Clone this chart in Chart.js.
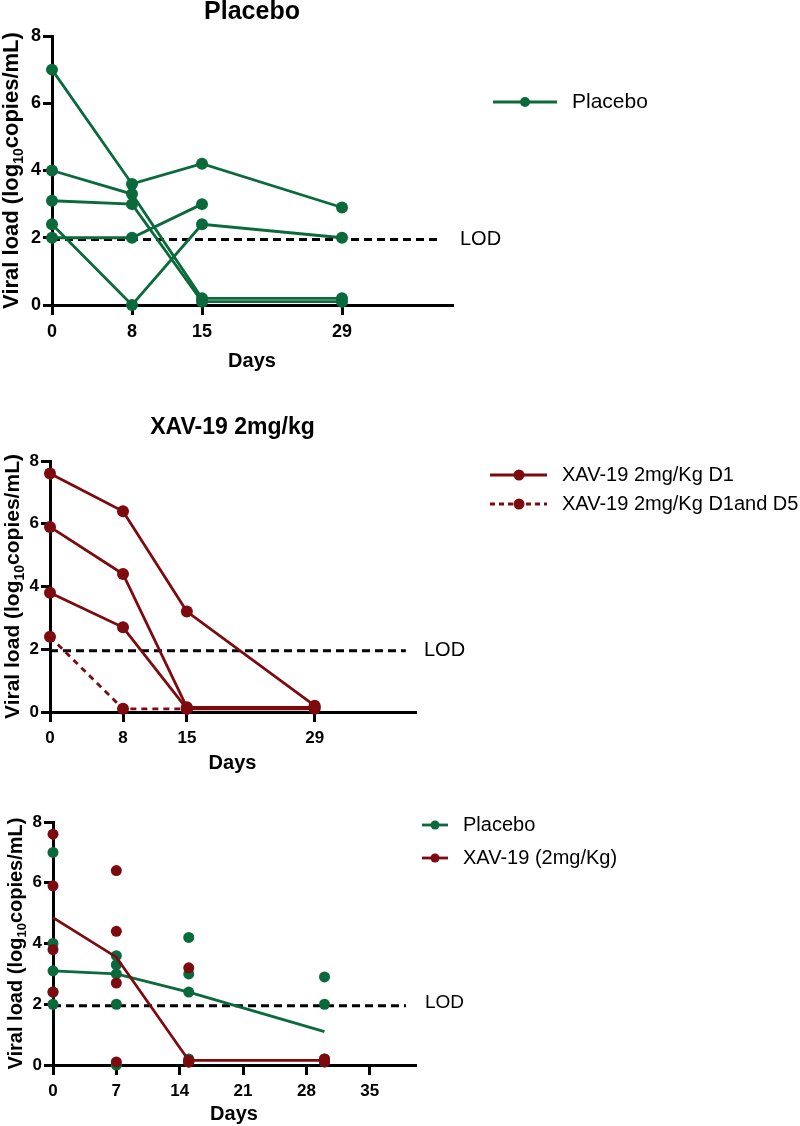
<!DOCTYPE html>
<html>
<head>
<meta charset="utf-8">
<script src="https://cdn.jsdelivr.net/npm/chart.js@4.4.1/dist/chart.umd.min.js"></script>
<style>
  body { margin: 0; background: #fff; }
  .wrap { position: relative; width: 800px; height: 1126px; }
  canvas { position: absolute; left: 0; }
</style>
</head>
<body>
<div class="wrap">
  <canvas id="placeboChart" width="800" height="380" style="top:0"></canvas>
  <canvas id="xavChart" width="800" height="400" style="top:380px"></canvas>
  <canvas id="combinedChart" width="800" height="346" style="top:780px"></canvas>
</div>
<script>
// Panel 1 - placebo animals, days 0/8/15/29
const placeboDays = [0, 8, 15, 29];
const placeboS1 = [7.0, 3.6, 4.2, 2.9];
const placeboS2 = [4.0, 3.3, 0.2, 0.2];
const placeboS3 = [3.1, 3.0, 0.1, 0.1];
const placeboS4 = [2.0, 2.0, 3.0, null];
const placeboS5 = [2.4, 0.0, 2.4, 2.0];

// Panel 2 - XAV-19 animals
const xavDays = [0, 8, 15, 29];
const xavD1a = [7.6, 6.4, 3.2, 0.2];
const xavD1b = [5.9, 4.4, 0.15, 0.15];
const xavD1c = [3.8, 2.7, 0.1, 0.1];
const xavD1D5 = [2.4, 0.1, 0.1, null];

// Panel 3 - pooled, days 0/7/15/30, with median lines
const combinedDays = [0, 7, 15, 30];
const placeboMedian = [3.1, 3.0, 2.4, 1.1];
const xavMedian = [4.85, 3.55, 0.15, 0.15];

const panelTicks = [0, 8, 15, 29];
const combinedTicks = [0, 7, 14, 21, 28, 35];
const lodValue = 1.95;
const lodRange = [0, 39];

const GREEN = '#0b6a3b';
const RED = '#7c0a0e';
const FONT = '"Liberation Sans", Arial, sans-serif';

const pts = (days, vals) => vals.map((v, i) => ({ x: days[i], y: v }));
const scatterPts = (days, groups) => {
  const out = [];
  groups.forEach(g => g.forEach((v, i) => { if (v !== null) out.push({ x: days[i], y: v }); }));
  return out;
};

function subject(days, vals, color, r, dash) {
  return {
    data: pts(days, vals), borderColor: color, backgroundColor: color,
    borderWidth: 2.8, borderDash: dash || [], pointRadius: r, pointHoverRadius: r,
    pointBorderWidth: 0, pointBackgroundColor: color, clip: false, spanGaps: false
  };
}

function lodLine() {
  return {
    data: lodRange.map(x => ({ x, y: lodValue })), borderColor: '#000',
    borderWidth: 3, borderDash: [8, 5], pointRadius: 0, clip: false
  };
}

function axisScales(xTicks, tickSize, yWidth, xHeight) {
  const border = { display: true, color: '#000', width: 3 };
  const grid = { drawOnChartArea: false, color: '#000', tickColor: '#000', tickLength: 9, tickWidth: 3, lineWidth: 3 };
  const font = { family: FONT, size: tickSize, weight: 'bold' };
  return {
    x: {
      type: 'linear', min: 0, max: 40, border,
      grid: { ...grid, tickLength: 10 },
      ticks: { color: '#000', font, padding: 6, maxRotation: 0, autoSkip: false },
      afterBuildTicks: s => { s.ticks = xTicks.map(v => ({ value: v })); },
      afterFit: s => { s.height = xHeight; }
    },
    y: {
      min: 0, max: 8, border, grid,
      ticks: { color: '#000', font, stepSize: 2, padding: 2 },
      afterFit: s => { s.width = yWidth; }
    }
  };
}

// titles, axis labels, LOD label and legends drawn on top
const decor = {
  id: 'decor',
  afterDraw(chart, args, o) {
    const { ctx, chartArea: a } = chart;
    const cx = (a.left + a.right) / 2;
    ctx.save();
    ctx.fillStyle = '#000';
    ctx.textBaseline = 'middle';
    ctx.textAlign = 'center';
    if (o.title) {
      ctx.font = 'bold ' + o.title.size + 'px ' + FONT;
      ctx.fillText(o.title.text, cx, o.title.y);
    }
    ctx.font = 'bold ' + o.xTitle.size + 'px ' + FONT;
    ctx.fillText('Days', cx, o.xTitle.y);

    // y title with subscript
    const s = o.yTitle.size;
    const big = 'bold ' + s + 'px ' + FONT;
    const small = 'bold ' + Math.round(s * 0.65) + 'px ' + FONT;
    const p1 = 'Viral load (log', sub = '10', p2 = 'copies/mL)';
    ctx.font = big; const w1 = ctx.measureText(p1).width, w3 = ctx.measureText(p2).width;
    ctx.font = small; const w2 = ctx.measureText(sub).width;
    const total = w1 + w2 + w3;
    ctx.translate(o.yTitle.x, (a.top + a.bottom) / 2);
    ctx.rotate(-Math.PI / 2);
    ctx.textAlign = 'left';
    ctx.textBaseline = 'alphabetic';
    let x = -total / 2;
    ctx.font = big; ctx.fillText(p1, x, 0); x += w1;
    ctx.font = small; ctx.fillText(sub, x, s * 0.22); x += w2;
    ctx.font = big; ctx.fillText(p2, x, 0);
    ctx.setTransform(1, 0, 0, 1, 0, 0);
    ctx.restore();

    ctx.save();
    ctx.fillStyle = '#000';
    ctx.textAlign = 'left';
    ctx.textBaseline = 'middle';
    ctx.font = o.lod.size + 'px ' + FONT;
    ctx.fillText('LOD', o.lod.x, o.lod.y);

    const L = o.legend;
    L.items.forEach(it => {
      ctx.strokeStyle = it.color;
      ctx.fillStyle = it.color;
      ctx.lineWidth = L.lw;
      ctx.setLineDash(it.dash ? [5, 4] : []);
      ctx.beginPath();
      ctx.moveTo(L.x1, it.y); ctx.lineTo(L.x2, it.y);
      ctx.stroke();
      ctx.setLineDash([]);
      ctx.beginPath();
      ctx.arc(L.dotX, it.y, L.r, 0, Math.PI * 2);
      ctx.fill();
      ctx.fillStyle = '#000';
      ctx.font = L.size + 'px ' + FONT;
      ctx.fillText(it.text, L.textX, it.y);
    });
    ctx.restore();
  }
};

const base = (padding, scales, decorOpts) => ({
  responsive: false, animation: false,
  layout: { padding },
  scales,
  plugins: { legend: { display: false }, tooltip: { enabled: false }, decor: decorOpts }
});

new Chart(document.getElementById('placeboChart'), {
  type: 'line',
  data: {
    datasets: [
      subject(placeboDays, placeboS1, GREEN, 6),
      subject(placeboDays, placeboS2, GREEN, 6),
      subject(placeboDays, placeboS3, GREEN, 6),
      subject(placeboDays, placeboS4, GREEN, 6),
      subject(placeboDays, placeboS5, GREEN, 6),
      lodLine()
    ]
  },
  options: base({ top: 36, right: 348, left: 0, bottom: 0 }, axisScales(panelTicks, 18, 52, 75), {
    title: { text: 'Placebo', size: 25, y: 12 },
    yTitle: { size: 22, x: 18 },
    xTitle: { size: 20, y: 361 },
    lod: { x: 460, y: 239, size: 20 },
    legend: { x1: 493, x2: 557, dotX: 525, r: 5, lw: 3, textX: 572, size: 21,
      items: [{ y: 102, color: GREEN, text: 'Placebo' }] }
  }),
  plugins: [decor]
});

new Chart(document.getElementById('xavChart'), {
  type: 'line',
  data: {
    datasets: [
      subject(xavDays, xavD1a, RED, 6),
      subject(xavDays, xavD1b, RED, 6),
      subject(xavDays, xavD1c, RED, 6),
      subject(xavDays, xavD1D5, RED, 6, [6, 5]),
      lodLine()
    ]
  },
  options: base({ top: 81, right: 385, left: 0, bottom: 0 }, axisScales(panelTicks, 17, 50, 68), {
    title: { text: 'XAV-19 2mg/kg', size: 23, y: 48 },
    yTitle: { size: 21, x: 19 },
    xTitle: { size: 20, y: 383 },
    lod: { x: 424, y: 270, size: 20 },
    legend: { x1: 490, x2: 547, dotX: 519, r: 5.5, lw: 3, textX: 562, size: 20,
      items: [
        { y: 95, color: RED, text: 'XAV-19 2mg/Kg D1' },
        { y: 124, color: RED, dash: true, text: 'XAV-19 2mg/Kg D1and D5' }
      ] }
  }),
  plugins: [decor]
});

new Chart(document.getElementById('combinedChart'), {
  type: 'line',
  data: {
    datasets: [
      { data: pts(combinedDays, xavMedian), borderColor: RED, borderWidth: 2.8, pointRadius: 0, clip: false },
      { data: scatterPts(combinedDays, [xavD1a, xavD1b, xavD1c, xavD1D5]), showLine: false,
        pointRadius: 5.5, pointBorderWidth: 0, pointBackgroundColor: RED, clip: false },
      { data: pts(combinedDays, placeboMedian), borderColor: GREEN, borderWidth: 2.8, pointRadius: 0, clip: false },
      { data: scatterPts(combinedDays, [placeboS1, placeboS2, placeboS3, placeboS4, placeboS5]), showLine: false,
        pointRadius: 5.5, pointBorderWidth: 0, pointBackgroundColor: GREEN, clip: false },
      lodLine()
    ]
  },
  options: base({ top: 42, right: 385, left: 0, bottom: 0 }, axisScales(combinedTicks, 17, 53, 61), {
    yTitle: { size: 20, x: 21.5 },
    xTitle: { size: 20, y: 334 },
    lod: { x: 425, y: 223, size: 19 },
    legend: { x1: 422, x2: 448, dotX: 435, r: 4.5, lw: 2.8, textX: 463, size: 20,
      items: [
        { y: 45, color: GREEN, text: 'Placebo' },
        { y: 78, color: RED, text: 'XAV-19 (2mg/Kg)' }
      ] }
  }),
  plugins: [decor]
});
</script>
</body>
</html>
